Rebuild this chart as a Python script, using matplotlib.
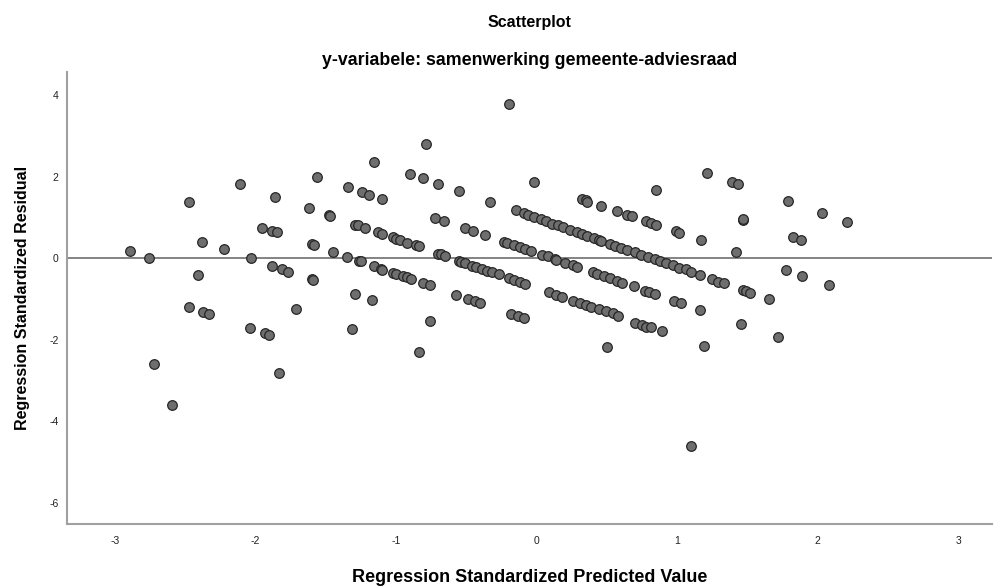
import matplotlib
matplotlib.use("Agg")
import matplotlib.pyplot as plt

plt.rcParams['font.family'] = ['Liberation Sans', 'DejaVu Sans']

# Regression standardized predicted values (x) and residuals (y)
pred = [
    -2.89, -2.76, -2.47, -2.38, -2.41, -2.22, -2.11, -2.03, -1.95, -1.88,
    -1.85, -1.86, -1.88, -1.81, -1.77, -1.62, -1.56, -1.60, -1.58, -1.60,
    -1.59, -1.48, -1.47, -1.45, -1.35, -1.34, -1.29, -1.27, -1.22, -1.26,
    -1.25, -1.24, -1.19, -1.10, -1.16, -1.16, -1.11, -1.10, -1.13, -1.10,
    -1.02, -1.00, -0.97, -0.92, -0.86, -0.84,
    -1.02, -1.00, -0.95, -0.92, -0.89, -0.81, -0.76,
    -1.29, -1.17, -2.47, -2.37, -2.33, -2.72, -2.59, -2.04, -1.93, -1.90,
    -1.83, -1.71, -1.31,
    -0.79, -0.90, -0.81, -0.70, -0.55, -0.72, -0.66, -0.70, -0.68, -0.65,
    -0.55, -0.57, -0.76, -0.84,
    -0.20, -0.02, -0.33, 0.32, 0.35, 0.36, 0.46, 0.57, 0.64, 0.68,
    -0.51, -0.45, -0.37, -0.15,
    -0.09, -0.06, -0.02, 0.03, 0.07, 0.11, 0.15, 0.19, 0.24, 0.29,
    0.32, 0.36, 0.41, 0.44, 0.46, 0.52, 0.56, 0.60, 0.64,
    0.70, 0.74, 0.79, 0.84, 0.88, 0.92, 0.97, 1.01, 1.06, 1.10, 1.16,
    1.25, 1.29, 1.33,
    -0.23, -0.21, -0.16, -0.12, -0.08, -0.04, 0.04, 0.08, 0.13, 0.14,
    0.20, 0.26, 0.29,
    0.40, 0.43, 0.48, 0.52, 0.57, 0.61, 0.69,
    -0.54, -0.51, -0.46, -0.43, -0.39, -0.35, -0.32, -0.27, -0.20, -0.16,
    -0.12, -0.08,
    -0.49, -0.44, -0.40, -0.18, -0.13, -0.09, 0.09, 0.14, 0.18,
    0.26, 0.31, 0.35, 0.39, 0.44, 0.49, 0.54, 0.58,
    0.50, 1.19, 1.16, 0.89, 0.70, 0.75, 0.78, 0.81, 0.98, 1.03,
    0.77, 0.80, 0.84, 0.85, 1.21, 1.39, 1.43, 1.79, 1.47, 1.47,
    1.82, 1.88, 1.17, 1.42, 0.78, 0.81, 0.85, 0.99, 1.01,
    1.47, 1.49, 1.52, 1.65, 1.77, 1.45, 1.72, 1.10, 2.03, 2.21,
    1.89, 2.08,
]
resid = [
    0.17, 0.01, 1.38, 0.40, -0.41, 0.22, 1.81, 0.00, 0.75, 0.67,
    0.64, 1.50, -0.19, -0.27, -0.33, 1.22, 2.00, 0.34, 0.32, -0.51,
    -0.54, 1.05, 1.03, 0.15, 0.03, 1.74, 0.82, 0.81, 0.74, -0.07,
    -0.08, 1.62, 1.56, 1.45, 2.37, -0.20, -0.26, -0.28, 0.63, 0.59,
    0.51, 0.48, 0.44, 0.38, 0.32, 0.29,
    -0.36, -0.38, -0.44, -0.47, -0.52, -0.60, -0.67,
    -0.89, -1.03, -1.19, -1.31, -1.36, -2.60, -3.61, -1.71, -1.83, -1.88,
    -2.82, -1.25, -1.73,
    2.79, 2.07, 1.96, 1.83, 1.64, 0.99, 0.92, 0.11, 0.10, 0.06,
    -0.07, -0.90, -1.53, -2.29,
    3.78, 1.87, 1.38, 1.45, 1.42, 1.39, 1.29, 1.16, 1.07, 1.03,
    0.73, 0.67, 0.57, 1.17,
    1.10, 1.06, 1.01, 0.96, 0.91, 0.85, 0.81, 0.76, 0.70, 0.65,
    0.60, 0.55, 0.50, 0.45, 0.43, 0.36, 0.31, 0.26, 0.21,
    0.14, 0.09, 0.03, -0.02, -0.07, -0.11, -0.17, -0.23, -0.27, -0.33, -0.42,
    -0.51, -0.58, -0.62,
    0.40, 0.37, 0.33, 0.28, 0.22, 0.17, 0.09, 0.06, -0.03, -0.05,
    -0.11, -0.17, -0.21,
    -0.35, -0.38, -0.44, -0.49, -0.56, -0.60, -0.68,
    -0.09, -0.13, -0.18, -0.21, -0.27, -0.32, -0.35, -0.40, -0.48, -0.54,
    -0.58, -0.63,
    -1.00, -1.05, -1.11, -1.38, -1.43, -1.48, -0.82, -0.90, -0.95,
    -1.04, -1.09, -1.15, -1.21, -1.25, -1.30, -1.35, -1.43,
    -2.18, -2.15, -1.27, -1.79, -1.58, -1.64, -1.68, -1.70, -1.06, -1.11,
    -0.81, -0.84, -0.89, 1.67, 2.10, 1.88, 1.83, 1.40, 0.94, 0.95,
    0.51, 0.44, 0.44, 0.14, 0.91, 0.87, 0.82, 0.66, 0.62,
    -0.78, -0.81, -0.85, -1.00, -0.28, -1.62, -1.94, -4.61, 1.12, 0.89,
    -0.43, -0.67,
]

xticks = [-3, -2, -1, 0, 1, 2, 3]
yticks = [-6, -4, -2, 0, 2, 4]
title = "Scatterplot"
subtitle = "y-variabele: samenwerking gemeente-adviesraad"
xlabel = "Regression Standardized Predicted Value"
ylabel = "Regression Standardized Residual"

fig = plt.figure(figsize=(9.97, 5.88), dpi=100)
ax = fig.add_axes([0.0672, 0.109, 0.928, 0.768])

ax.axhline(0, color='#7a7a7a', lw=1.3, zorder=1)
ax.scatter(pred, resid, s=48, facecolor='#6e6e6e', edgecolor='#262626',
           linewidths=0.9, zorder=2)

ax.set_xlim(-3.34, 3.24)
ax.set_ylim(-6.52, 4.56)
ax.set_xticks(xticks)
ax.set_yticks(yticks)
ax.set_xticklabels([str(t) for t in xticks])
ax.set_yticklabels([str(t) for t in yticks])
ax.tick_params(axis='both', length=0, labelsize=7.5, colors='#222222')
ax.tick_params(axis='x', pad=9)
ax.tick_params(axis='y', pad=6)

for side in ('top', 'right'):
    ax.spines[side].set_visible(False)
for side in ('left', 'bottom'):
    ax.spines[side].set_color('#a0a0a0')
    ax.spines[side].set_linewidth(1.5)

ax.set_xlabel(xlabel, fontsize=13, fontweight='bold', labelpad=16)
ax.set_ylabel(ylabel, fontsize=11.5, fontweight='bold', labelpad=14)

fig.text(0.531, 0.962, title, ha='center', va='center', fontsize=11.5,
         fontweight='bold')
fig.text(0.531, 0.897, subtitle, ha='center', va='center', fontsize=12.8,
         fontweight='bold')

fig.savefig('out.png', dpi=100)
